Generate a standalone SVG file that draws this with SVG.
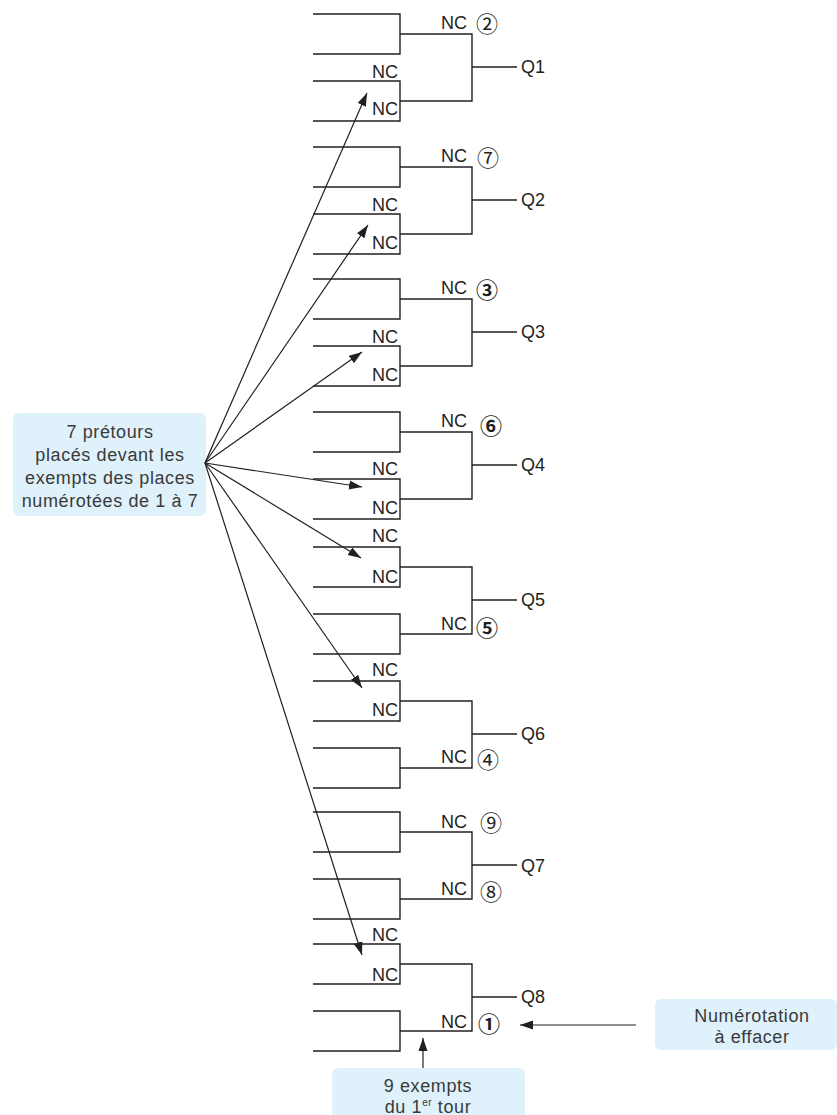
<svg xmlns="http://www.w3.org/2000/svg" width="837" height="1115" viewBox="0 0 837 1115">
<style>
.ln{fill:none;stroke:#231f20;stroke-width:1.4}
.nc{font-family:"Liberation Sans",Arial,sans-serif;font-size:18px;fill:#231f20}
.e{text-anchor:end}
.cn{font-family:"Noto Sans CJK JP","DejaVu Sans",sans-serif;font-size:22px;fill:#231f20;text-anchor:middle}
.cb{font-weight:bold}
.box{fill:#dff1fa}
.bt{font-family:"Liberation Sans",Arial,sans-serif;font-size:18px;letter-spacing:0.6px;fill:#3a3a3a;text-anchor:middle}
.ar{fill:none;stroke:#231f20;stroke-width:1.2}
</style>
<defs>
<marker id="ah" markerUnits="userSpaceOnUse" markerWidth="14" markerHeight="10" refX="13" refY="5" orient="auto">
<path d="M0,0.5 L13,5 L0,9.5 z" fill="#231f20"/>
</marker>
</defs>
<g id="Q1">
<path class="ln" d="M313,14H400V54H313M313,81H400V121H313M400,34H472V101H400M472,67H517"/>
<text class="nc e" x="467" y="29">NC</text><text class="cn" x="487" y="31.5">②</text>
<text class="nc e" x="398" y="78">NC</text><text class="nc e" x="398" y="115">NC</text>
<text class="nc" x="521" y="73">Q1</text>
</g>
<g id="Q2">
<path class="ln" d="M313,147H400V187H313M313,214H400V254H313M400,167H472V234H400M472,200H517"/>
<text class="nc e" x="467" y="162">NC</text><text class="cn" x="488" y="166">⑦</text>
<text class="nc e" x="398" y="211">NC</text><text class="nc e" x="398" y="249">NC</text>
<text class="nc" x="521" y="206">Q2</text>
</g>
<g id="Q3">
<path class="ln" d="M313,279H400V319H313M313,346H400V386H313M400,299H472V366H400M472,332H517"/>
<text class="nc e" x="467" y="294">NC</text><text class="cn cb" x="487" y="298">③</text>
<text class="nc e" x="398" y="343">NC</text><text class="nc e" x="398" y="381">NC</text>
<text class="nc" x="521" y="338">Q3</text>
</g>
<g id="Q4">
<path class="ln" d="M313,412H400V452H313M313,479H400V519H313M400,432H472V499H400M472,465H517"/>
<text class="nc e" x="467" y="427">NC</text><text class="cn cb" x="491" y="434">⑥</text>
<text class="nc e" x="398" y="475">NC</text><text class="nc e" x="398" y="514">NC</text>
<text class="nc" x="521" y="471">Q4</text>
</g>
<g id="Q5">
<path class="ln" d="M313,547H400V587H313M313,614H400V654H313M400,567H472V634H400M472,600H517"/>
<text class="nc e" x="398" y="542">NC</text><text class="nc e" x="398" y="583">NC</text>
<text class="nc e" x="467" y="630">NC</text><text class="cn cb" x="487" y="636">⑤</text>
<text class="nc" x="521" y="606">Q5</text>
</g>
<g id="Q6">
<path class="ln" d="M313,681H400V721H313M313,748H400V788H313M400,701H472V768H400M472,734H517"/>
<text class="nc e" x="398" y="676">NC</text><text class="nc e" x="398" y="716">NC</text>
<text class="nc e" x="467" y="763">NC</text><text class="cn" x="488" y="768">④</text>
<text class="nc" x="521" y="740">Q6</text>
</g>
<g id="Q7">
<path class="ln" d="M313,812H400V852H313M313,879H400V919H313M400,832H472V899H400M472,865H517"/>
<text class="nc e" x="467" y="828">NC</text><text class="cn" x="491" y="831">⑨</text>
<text class="nc e" x="467" y="895">NC</text><text class="cn" x="491" y="900">⑧</text>
<text class="nc" x="521" y="872">Q7</text>
</g>
<g id="Q8">
<path class="ln" d="M313,944H400V984H313M313,1011H400V1051H313M400,964H472V1031H400M472,997H517"/>
<text class="nc e" x="398" y="941">NC</text><text class="nc e" x="398" y="981">NC</text>
<text class="nc e" x="467" y="1028">NC</text><text class="cn cb" x="489" y="1032">①</text>
<text class="nc" x="521" y="1003">Q8</text>
</g>
<g id="pretours">
<rect class="box" x="13" y="413" width="193" height="103" rx="6"/>
<text class="bt" x="110" y="438">7 prétours</text>
<text class="bt" x="110" y="461">placés devant les</text>
<text class="bt" x="110" y="484">exempts des places</text>
<text class="bt" x="110" y="507">numérotées de 1 à 7</text>
</g>
<g id="numerotation">
<rect class="box" x="655" y="999" width="182" height="51" rx="6"/>
<text class="bt" x="752" y="1022">Numérotation</text>
<text class="bt" x="752" y="1043">à effacer</text>
</g>
<g id="exempts">
<rect class="box" x="332" y="1068" width="193" height="60" rx="6"/>
<text class="bt" x="428" y="1092">9 exempts</text>
<text class="bt" x="428" y="1113">du 1<tspan font-size="10" dy="-7">er</tspan><tspan dy="7"> tour</tspan></text>
</g>
<g id="connectors">
<path class="ar" marker-end="url(#ah)" d="M205,463L367,93"/>
<path class="ar" marker-end="url(#ah)" d="M205,463L368,225"/>
<path class="ar" marker-end="url(#ah)" d="M205,463L362,352"/>
<path class="ar" marker-end="url(#ah)" d="M205,463L362,487"/>
<path class="ar" marker-end="url(#ah)" d="M205,463L361,558"/>
<path class="ar" marker-end="url(#ah)" d="M205,463L362,688"/>
<path class="ar" marker-end="url(#ah)" d="M205,463L362,955"/>
<path class="ar" marker-end="url(#ah)" d="M423,1068V1038"/>
<path class="ar" marker-end="url(#ah)" d="M636,1025H520"/>
</g>
</svg>
